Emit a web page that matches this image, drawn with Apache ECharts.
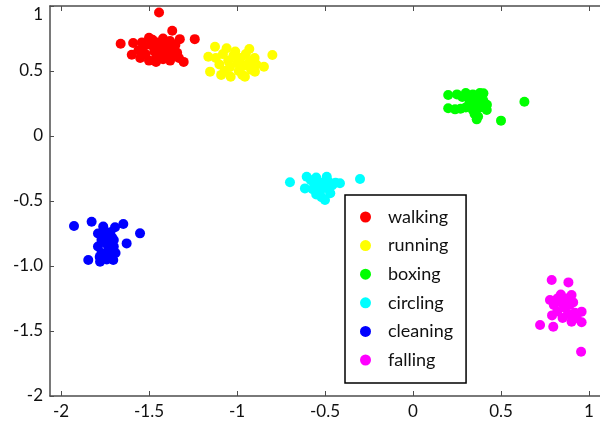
<!DOCTYPE html>
<html>
<head>
<meta charset="utf-8">
<script src="https://cdn.jsdelivr.net/npm/echarts@6/dist/echarts.min.js"></script>
<style>
  html, body { margin: 0; padding: 0; background: #fff; }
  #chart { width: 600px; height: 425px; }
</style>
</head>
<body>
<div id="chart"></div>
<script>
// Activity classes and their 2-D embedding coordinates
const categories = ['walking', 'running', 'boxing', 'circling', 'cleaning', 'falling'];

const walking = [
  [-1.443, 0.95], [-1.368, 0.81], [-1.661, 0.71], [-1.24, 0.745], [-1.303, 0.57],
  [-1.59, 0.715], [-1.598, 0.625], [-1.5, 0.755], [-1.325, 0.745],
  [-1.56, 0.66], [-1.55, 0.6], [-1.53, 0.69], [-1.52, 0.63], [-1.5, 0.58],
  [-1.49, 0.7], [-1.47, 0.65], [-1.46, 0.6], [-1.45, 0.72], [-1.44, 0.68],
  [-1.43, 0.62], [-1.42, 0.59], [-1.41, 0.7], [-1.4, 0.65], [-1.39, 0.6],
  [-1.38, 0.73], [-1.37, 0.67], [-1.36, 0.62], [-1.35, 0.7], [-1.34, 0.64],
  [-1.33, 0.6], [-1.48, 0.74], [-1.42, 0.75], [-1.38, 0.58], [-1.54, 0.72],
  [-1.46, 0.57]
];

const running = [
  [-0.799, 0.623], [-1.153, 0.495], [-1.125, 0.687], [-1.059, 0.675], [-0.93, 0.669],
  [-1.036, 0.456], [-0.955, 0.456], [-0.847, 0.533], [-0.898, 0.495], [-1.163, 0.61],
  [-1.12, 0.6], [-1.1, 0.55], [-1.08, 0.63], [-1.07, 0.5], [-1.05, 0.58],
  [-1.04, 0.53], [-1.02, 0.62], [-1.0, 0.56], [-0.99, 0.5], [-0.98, 0.6],
  [-0.96, 0.54], [-0.95, 0.63], [-0.93, 0.57], [-0.92, 0.51], [-0.9, 0.6],
  [-0.89, 0.55], [-1.09, 0.47], [-1.01, 0.65], [-0.97, 0.47]
];

const boxing = [
  [0.633, 0.264], [0.5, 0.118], [0.362, 0.128], [0.2, 0.315], [0.2, 0.213],
  [0.239, 0.205], [0.4, 0.328], [0.419, 0.2],
  [0.25, 0.32], [0.28, 0.3], [0.3, 0.33], [0.32, 0.29], [0.34, 0.32],
  [0.36, 0.3], [0.38, 0.33], [0.3, 0.22], [0.32, 0.25], [0.34, 0.2],
  [0.36, 0.26], [0.38, 0.22], [0.4, 0.27], [0.42, 0.24], [0.35, 0.17],
  [0.27, 0.21], [0.37, 0.15]
];

const circling = [
  [-0.699, -0.356], [-0.301, -0.331], [-0.415, -0.364], [-0.5, -0.492], [-0.604, -0.313],
  [-0.49, -0.313], [-0.614, -0.403],
  [-0.58, -0.34], [-0.56, -0.38], [-0.55, -0.32], [-0.53, -0.42], [-0.52, -0.36],
  [-0.5, -0.4], [-0.48, -0.35], [-0.47, -0.44], [-0.46, -0.38], [-0.55, -0.45],
  [-0.52, -0.47], [-0.57, -0.41], [-0.44, -0.36]
];

const cleaning = [
  [-1.926, -0.692], [-1.826, -0.659], [-1.646, -0.677], [-1.551, -0.749], [-1.627, -0.826],
  [-1.845, -0.954], [-1.778, -0.967], [-1.703, -0.954], [-1.76, -0.697], [-1.693, -0.702],
  [-1.79, -0.75], [-1.77, -0.8], [-1.79, -0.85], [-1.77, -0.9], [-1.75, -0.77],
  [-1.74, -0.83], [-1.73, -0.88], [-1.72, -0.93], [-1.71, -0.78], [-1.7, -0.85],
  [-1.69, -0.9], [-1.76, -0.73], [-1.72, -0.74], [-1.78, -0.93], [-1.74, -0.95],
  [-1.7, -0.8]
];

const falling = [
  [0.788, -1.108], [0.883, -1.126], [0.722, -1.454], [0.955, -1.659], [0.797, -1.467],
  [0.958, -1.433], [0.958, -1.351], [0.901, -1.223], [0.778, -1.262], [0.901, -1.428],
  [0.8, -1.3], [0.82, -1.25], [0.82, -1.35], [0.84, -1.28], [0.85, -1.4],
  [0.86, -1.32], [0.87, -1.25], [0.88, -1.37], [0.89, -1.3], [0.91, -1.28],
  [0.92, -1.36], [0.79, -1.38], [0.84, -1.22], [0.93, -1.4]
];

const seriesValues = [walking, running, boxing, circling, cleaning, falling];

// Tick positions and their printed labels
const xTicks = [-2, -1.5, -1, -0.5, 0, 0.5, 1];
const xTickLabels = ['-2', '-1.5', '-1', '-0.5', '0', '0.5', '1'];
const yTicks = [-2, -1.5, -1, -0.5, 0, 0.5, 1];
const yTickLabels = ['-2', '-1.5', '-1.0', '-0.5', '0', '0.5', '1'];

const palette = ['#ff0000', '#ffff00', '#00ff00', '#00ffff', '#0000ff', '#ff00ff'];
const FONT = 'Lato';
const axisColor = '#4d4d4d';

function labelFor(ticks, labels) {
  return function (v) {
    for (let i = 0; i < ticks.length; i++) {
      if (Math.abs(ticks[i] - v) < 1e-9) return labels[i];
    }
    return '';
  };
}

const xAxisCommon = {
  type: 'value',
  min: -2.0625,
  max: 1.0625,
  splitLine: { show: false },
  axisLine: { show: true, onZero: false, lineStyle: { color: axisColor, width: 1.5 } },
  axisTick: { show: true, inside: true, length: 5, customValues: xTicks, lineStyle: { color: axisColor, width: 1 } }
};

const chart = echarts.init(document.getElementById('chart'), null, { renderer: 'canvas' });

chart.setOption({
  animation: false,
  backgroundColor: '#ffffff',
  grid: { left: 50, right: 0, top: 6, bottom: 29, containLabel: false },
  xAxis: [
    Object.assign({}, xAxisCommon, {
      position: 'bottom',
      axisLabel: {
        show: true, customValues: xTicks, formatter: labelFor(xTicks, xTickLabels),
        color: '#111', fontFamily: FONT, fontSize: 17, margin: 7
      }
    }),
    Object.assign({}, xAxisCommon, {
      position: 'top',
      axisLabel: { show: false }
    })
  ],
  yAxis: {
    type: 'value',
    min: -2,
    max: 1,
    interval: 0.5,
    splitLine: { show: false },
    axisLine: { show: true, onZero: false, lineStyle: { color: axisColor, width: 1.5 } },
    axisTick: { show: true, inside: true, length: 4, lineStyle: { color: axisColor, width: 1 } },
    axisLabel: {
      formatter: labelFor(yTicks, yTickLabels),
      color: '#111', fontFamily: FONT, fontSize: 17, margin: 7,
      verticalAlignMaxLabel: 'top'
    }
  },
  legend: {
    data: categories,
    orient: 'vertical',
    left: 345,
    top: 195,
    padding: [13, 13, 14, 15],
    itemWidth: 11,
    itemHeight: 11,
    itemGap: 10.6,
    selectedMode: false,
    borderColor: '#000',
    borderWidth: 1.5,
    backgroundColor: '#fff',
    textStyle: { fontFamily: FONT, fontSize: 18, color: '#111', lineHeight: 18, padding: [0, 0, 0, 12] }
  },
  series: categories.map(function (name, i) {
    return {
      name: name,
      type: 'scatter',
      xAxisIndex: 0,
      yAxisIndex: 0,
      symbol: 'circle',
      symbolSize: 10,
      itemStyle: { color: palette[i], opacity: 1 },
      data: seriesValues[i]
    };
  })
});
</script>
</body>
</html>
